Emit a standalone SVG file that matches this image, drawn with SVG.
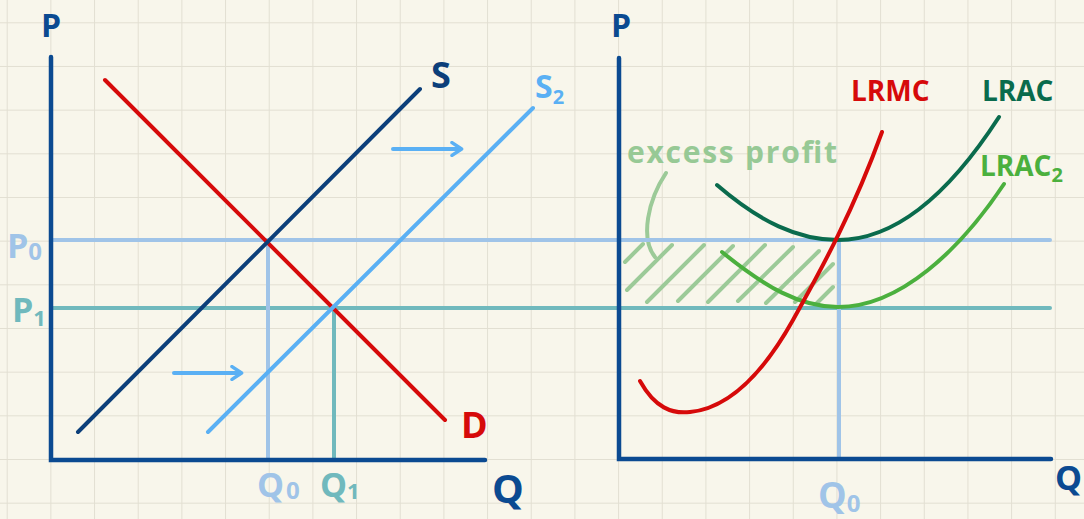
<svg xmlns="http://www.w3.org/2000/svg" width="1084" height="519" viewBox="0 0 1084 519">
<defs>
<pattern id="grid" x="6.7" y="22.3" width="43.67" height="43.67" patternUnits="userSpaceOnUse">
<path d="M0 0 H43.67 M0 0 V43.67" fill="none" stroke="#e2dfd2" stroke-width="2"/>
</pattern>
<marker id="arr" viewBox="0 0 10 10" refX="7" refY="5" markerWidth="4" markerHeight="4" orient="auto" markerUnits="strokeWidth">
<path d="M2 1 L8 5 L2 9" fill="none" stroke="#5ab0f4" stroke-width="2.2" stroke-linecap="round" stroke-linejoin="round"/>
</marker>
<style>
.ax{stroke:#0b4a91;stroke-width:4.5;fill:none;stroke-linecap:round}
.ln{fill:none;stroke-width:4;stroke-linecap:round}
.hatch{stroke:#9cca98;stroke-width:4;stroke-linecap:round;fill:none}
.t{font-family:"Open Sans","Liberation Sans",sans-serif;font-weight:700}
</style>
</defs>
<rect width="1084" height="519" fill="#f8f6eb"/>
<rect width="1084" height="519" fill="url(#grid)"/>

<g id="hatch-area">
<path class="hatch" d="M625 262 L643 244 M627 290 L672 245 M647 302 L704 245 M678 301 L733 246 M708 302 L765 245 M738 301 L793 247 M766 303 L819 251 M795 302 L833 264 M817 303 L833 287"/>
<path class="hatch" d="M666 173 C648 200 640 238 655 257"/>
</g>

<g id="price-lines">
<line class="ln" x1="51" y1="240" x2="1050" y2="240" stroke="#a0c4e8"/>
<line class="ln" x1="51" y1="308" x2="1050" y2="308" stroke="#70b9bd"/>
<line class="ln" x1="268" y1="240" x2="268" y2="459" stroke="#a0c4e8"/>
<line class="ln" x1="334" y1="308" x2="334" y2="459" stroke="#70b9bd"/>
<line class="ln" x1="839" y1="240" x2="839" y2="459" stroke="#a0c4e8"/>
</g>

<g id="left-axes">
<path class="ax" d="M51 57 V460 H485"/>
<text class="t" x="41" y="37" font-size="32" fill="#0b4a91">P</text>
<text class="t" x="492" y="503" font-size="40" fill="#0b4a91">Q</text>
</g>

<g id="right-axes">
<path class="ax" d="M619 58 V459 H1051"/>
<text class="t" x="611" y="37" font-size="32" fill="#0b4a91">P</text>
<text class="t" x="1055" y="490" font-size="34" fill="#0b4a91">Q</text>
</g>

<g id="demand">
<line class="ln" x1="105" y1="80" x2="445" y2="420" stroke="#d60a0a"/>
<text class="t" x="461" y="438" font-size="36" fill="#d60a0a">D</text>
</g>

<g id="supply-S">
<line class="ln" x1="78" y1="432" x2="420" y2="89" stroke="#0c3f7a"/>
<text class="t" x="431" y="88" font-size="36" fill="#0c3f7a">S</text>
</g>

<g id="supply-S2">
<line class="ln" x1="208" y1="432" x2="533" y2="108" stroke="#5ab0f4"/>
<text class="t" x="535" y="98" font-size="32" fill="#5ab0f4">S<tspan font-size="20" dy="6">2</tspan></text>
</g>

<g id="connectors">
<line class="ln" x1="393" y1="149" x2="460" y2="149" stroke="#5ab0f4" marker-end="url(#arr)"/>
<line class="ln" x1="174" y1="373" x2="240" y2="373" stroke="#5ab0f4" marker-end="url(#arr)"/>
</g>

<g id="labels-left">
<text class="t" x="7" y="258" font-size="34" fill="#a0c4e8">P<tspan font-size="24" dy="2">0</tspan></text>
<text class="t" x="12" y="322" font-size="34" fill="#70b9bd">P<tspan font-size="22" dy="4">1</tspan></text>
<text class="t" x="257" y="497" font-size="34" fill="#a0c4e8">Q<tspan font-size="24" dx="2" dy="2">0</tspan></text>
<text class="t" x="320" y="497" font-size="34" fill="#70b9bd">Q<tspan font-size="22" dy="2">1</tspan></text>
</g>

<g id="LRAC">
<path class="ln" stroke="#0a6b4d" d="M717 185 C760 222 798 240 838 240 C900 240 955 185 999 117"/>
<text class="t" x="982" y="101" font-size="28" fill="#0a6b4d">LRAC</text>
</g>

<g id="LRAC2">
<path class="ln" stroke="#4bb03e" d="M722 252 C765 287 800 307 838 307 C900 307 960 250 1004 184"/>
<text class="t" x="980" y="176" font-size="28" fill="#4bb03e">LRAC<tspan font-size="20" dy="6">2</tspan></text>
</g>

<g id="LRMC">
<path class="ln" stroke="#d60a0a" d="M640 381 C655 408 672 414 690 412 C730 408 765 370 793 320 C815 280 850 220 882 132"/>
<text class="t" x="851" y="101" font-size="28" fill="#d60a0a">LRMC</text>
</g>

<g id="excess-profit">
<text class="t" x="627" y="163" font-size="30" font-weight="600" fill="#97c995" textLength="210">excess profit</text>
</g>

<g id="label-Q0-right">
<text class="t" x="818" y="508" font-size="36" fill="#a0c4e8">Q<tspan font-size="24" dy="4">0</tspan></text>
</g>
</svg>
